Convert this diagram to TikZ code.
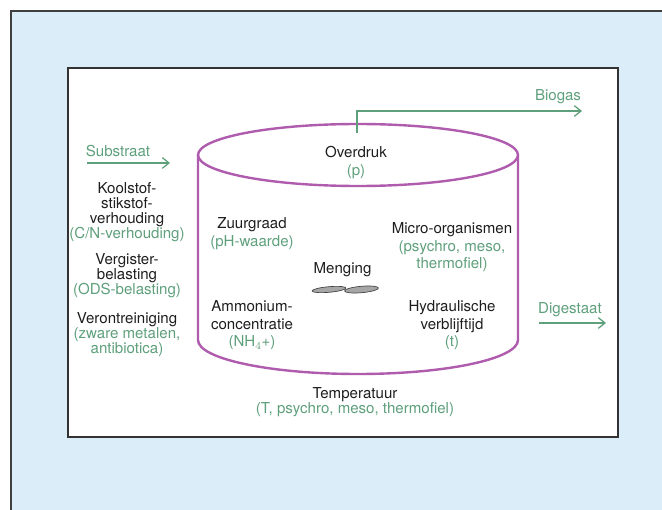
\documentclass[tikz,border=0pt]{standalone}
\usepackage{fontspec}
\setmainfont{TeX Gyre Heros}
\usetikzlibrary{arrows.meta}
\definecolor{panel}{HTML}{DAEDF8}
\definecolor{tank}{HTML}{B05CAE}
\definecolor{grn}{HTML}{5FA07C}
\definecolor{ink}{HTML}{1E1E1E}
\newcommand{\gr}[1]{\textcolor{grn}{#1}}
\begin{document}
\begin{tikzpicture}[x=0.75pt,y=-0.75pt,
  txt/.style={inner sep=0,anchor=north,align=center,text=ink,font=\fontsize{11.3}{13.4}\selectfont},
  side/.style={txt,font=\fontsize{11.3}{11.4}\selectfont},
  flow/.style={grn,line width=0.95pt,-{Straight Barb[length=5pt,width=8pt]}},
  blade/.style={fill=black!35,draw=black!75,line width=0.5pt}]
\useasboundingbox (0,0) rectangle (662,510);
\fill[panel] (11,11) rectangle (662,510);
\draw[black!75,line width=1.1pt] (662,11) -- (11,11) -- (11,510);
\filldraw[fill=white,draw=black!80,line width=0.9pt] (68,68) rectangle (618,437);
% vergister
\draw[tank,line width=1.8pt] (358,155) ellipse (160 and 31);
\draw[tank,line width=1.8pt] (198,155) -- (198,340) arc (180:0:160 and 34) -- (518,155);
% menger
\filldraw[blade,rotate around={5:(329,289.5)}] (329,289.5) ellipse (17 and 2.8);
\filldraw[blade,rotate around={5:(361.5,289.5)}] (361.5,289.5) ellipse (17 and 3.2);
% in- en uitstroom
\node[txt,text=grn] (substraat) at (118,145) {Substraat};
\coordinate (subin) at (87,163);
\coordinate (subout) at (170,163);
\draw[flow] (subin) -- (subout);
\node[txt] (overdruk) at (356,146) {Overdruk\\\gr{(p)}};
\coordinate (gasin) at (357,133);
\coordinate (gasout) at (582,111);
\draw[flow] (gasin) |- (gasout);
\node[txt,text=grn] (biogas) at (558,89) {Biogas};
\node[txt,text=grn] (digestaat) at (570,302) {Digestaat};
\coordinate (digin) at (539,323);
\coordinate (digout) at (606,323);
\draw[flow] (digin) -- (digout);
% factoren links
\node[side] (cn) at (127,182) {Koolstof-\\stikstof-\\verhouding\\\gr{(C/N-verhouding)}};
\node[side] (ods) at (127,253) {Vergister-\\belasting\\\gr{(ODS-belasting)}};
\node[side] (vervuiling) at (127,312) {Verontreiniging\\\gr{(zware metalen,}\\\gr{antibiotica)}};
% factoren in de tank
\node[txt] (zuur) at (252,217) {Zuurgraad\\\gr{(pH-waarde)}};
\node[txt] (menging) at (342.5,262) {Menging};
\node[txt] (ammonium) at (252,300) {Ammonium-\\concentratie\\\gr{(NH$_4$+)}};
\node[txt] (micro) at (452,222) {Micro-organismen\\\gr{(psychro, meso,}\\\gr{thermofiel)}};
\node[txt] (hrt) at (452,300) {Hydraulische\\verblijftijd\\\gr{(t)}};
\node[side] (temp) at (355,387) {Temperatuur\\\gr{(T, psychro, meso, thermofiel)}};
\end{tikzpicture}
\end{document}
